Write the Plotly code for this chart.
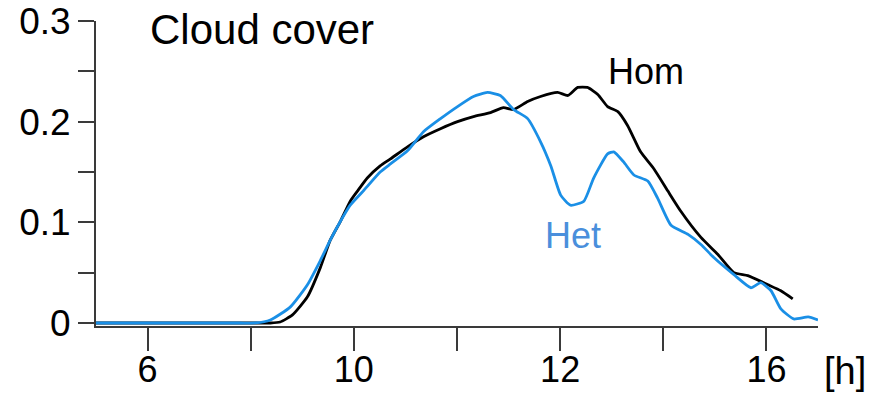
import plotly.graph_objects as go

# Time of day (hours) and fractional cloud cover for the two simulations
hom_hours = [5.0, 6.5, 8.0, 8.38, 8.57, 8.81, 9.10, 9.35, 9.54, 9.74, 9.93, 10.07,
             10.26, 10.51, 10.71, 11.04, 11.35, 11.68, 12.01, 12.32, 12.65, 12.90,
             13.10, 13.37, 13.62, 13.95, 14.15, 14.34, 14.53, 14.73, 14.92, 15.12,
             15.31, 15.56, 15.82, 16.09, 16.34, 16.73, 17.06, 17.37, 17.64, 18.03,
             18.28, 18.51]
hom_cover = [0.0, 0.0, 0.0, 0.0, 0.001, 0.008, 0.026, 0.055, 0.082, 0.101, 0.121,
             0.131, 0.144, 0.156, 0.163, 0.175, 0.185, 0.193, 0.200, 0.205, 0.209,
             0.214, 0.212, 0.220, 0.225, 0.229, 0.226, 0.234, 0.234, 0.227, 0.215,
             0.210, 0.196, 0.170, 0.153, 0.131, 0.111, 0.085, 0.068, 0.050, 0.047,
             0.038, 0.032, 0.024]

het_hours = [5.0, 6.5, 7.8, 8.09, 8.38, 8.77, 9.10, 9.35, 9.54, 9.74, 9.93, 10.18,
             10.51, 10.71, 11.04, 11.35, 11.68, 12.01, 12.32, 12.59, 12.84, 13.10,
             13.37, 13.62, 13.82, 14.01, 14.20, 14.46, 14.65, 14.92, 15.04, 15.23,
             15.43, 15.70, 15.89, 16.15, 16.48, 16.73, 16.98, 17.37, 17.70, 17.89,
             18.09, 18.28, 18.53, 18.81, 19.0]
het_cover = [0.0, 0.0, 0.0, 0.0, 0.003, 0.016, 0.038, 0.062, 0.082, 0.101, 0.117,
             0.131, 0.150, 0.158, 0.171, 0.190, 0.203, 0.215, 0.225, 0.229, 0.226,
             0.212, 0.203, 0.180, 0.156, 0.127, 0.117, 0.121, 0.144, 0.168, 0.170,
             0.160, 0.147, 0.141, 0.124, 0.097, 0.088, 0.078, 0.065, 0.048, 0.035,
             0.040, 0.032, 0.014, 0.004, 0.006, 0.003]

x_tick_vals = [6, 8, 10, 12, 14, 16, 18]
x_tick_text = ["6", "", "10", "", "12", "", "16"]
y_tick_vals = [0, 0.05, 0.1, 0.15, 0.2, 0.25, 0.3]
y_tick_text = ["0", "", "0.1", "", "0.2", "", "0.3"]

FONT = "Liberation Sans, Arial, sans-serif"
BLUE = "#1a8fe6"
AXIS = "#3a3a3a"

W, H = 883, 396
M_L, M_R, M_T, M_B = 96, 65, 21, 70
plot_w = W - M_L - M_R
plot_h = H - M_T - M_B

fig = go.Figure()
fig.add_trace(go.Scatter(x=hom_hours, y=hom_cover, mode="lines", name="Hom",
                         line=dict(color="black", width=2.8, shape="spline",
                                   smoothing=0.5)))
fig.add_trace(go.Scatter(x=het_hours, y=het_cover, mode="lines", name="Het",
                         line=dict(color=BLUE, width=2.8, shape="spline",
                                   smoothing=0.5)))

fig.update_layout(
    width=W, height=H,
    margin=dict(l=M_L, r=M_R, t=M_T, b=M_B, autoexpand=False),
    paper_bgcolor="white", plot_bgcolor="white",
    showlegend=False,
    font=dict(family=FONT, color="black"),
    xaxis=dict(range=[5, 19], tickvals=x_tick_vals, ticktext=x_tick_text,
               automargin=False, ticklabelstandoff=-12,
               showgrid=False, zeroline=False, showline=True, linecolor=AXIS,
               linewidth=2, ticks="outside", ticklen=23, tickwidth=2, tickcolor=AXIS,
               tickfont=dict(size=36, family=FONT, color="black")),
    yaxis=dict(range=[-0.003, 0.3], tickvals=y_tick_vals, ticktext=y_tick_text,
               automargin=False,
               showgrid=False, zeroline=False, showline=True, linecolor=AXIS,
               linewidth=2, ticks="outside", ticklen=16, tickwidth=2, tickcolor=AXIS,
               tickfont=dict(size=37, family=FONT, color="black")),
    annotations=[
        dict(text="Cloud cover", x=6.0, y=0.292, xref="x", yref="y",
             xanchor="left", yanchor="middle", showarrow=False,
             font=dict(size=42, family=FONT, color="black")),
        dict(text="Hom", x=14.88, y=0.25, xref="x", yref="y",
             xanchor="left", yanchor="middle", showarrow=False,
             font=dict(size=36, family=FONT, color="black")),
        dict(text="Het", x=13.66, y=0.087, xref="x", yref="y",
             xanchor="left", yanchor="middle", showarrow=False,
             font=dict(size=36, family=FONT, color="#4a8fdc")),
        dict(text="[h]", x=(845 - M_L) / plot_w, y=(H - M_B - 371) / plot_h,
             xref="paper", yref="paper",
             xanchor="center", yanchor="middle", showarrow=False,
             font=dict(size=38, family=FONT, color="black")),
    ],
)

fig.write_html("out.html")
